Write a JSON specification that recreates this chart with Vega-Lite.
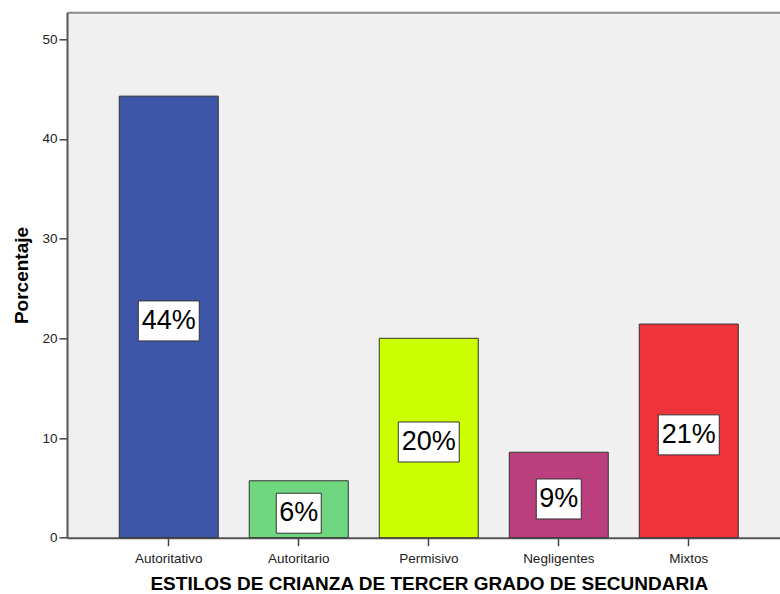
{
  "$schema": "https://vega.github.io/schema/vega-lite/v6.json",
  "width": 713,
  "height": 525.4,
  "autosize": {"type": "none"},
  "padding": {"left": 67, "top": 12.3, "right": 0, "bottom": 56.3},
  "background": "white",
  "config": {"view": {"stroke": null, "fill": "#F0F0F0"}, "font": "Liberation Sans"},
  "data": {"values": [
    {"estilo": "Autoritativo", "porcentaje": 44.29, "etiqueta": "44%"},
    {"estilo": "Autoritario", "porcentaje": 5.71, "etiqueta": "6%"},
    {"estilo": "Permisivo", "porcentaje": 20.0, "etiqueta": "20%"},
    {"estilo": "Negligentes", "porcentaje": 8.57, "etiqueta": "9%"},
    {"estilo": "Mixtos", "porcentaje": 21.43, "etiqueta": "21%"}
  ]},
  "layer": [
    {
      "mark": {"type": "bar", "stroke": "#333333", "strokeWidth": 1},
      "encoding": {
        "x": {
          "field": "estilo", "type": "nominal", "sort": null,
          "scale": {"paddingInner": 0.2385, "paddingOuter": 0.3615, "align": 0.556},
          "axis": {
            "labelAngle": 0, "tickSize": 8, "labelPadding": 17, "labelBaseline": "alphabetic",
            "labelFontSize": 13.5, "labelColor": "#222222", "labelFont": "Liberation Sans",
            "domainColor": "#555555", "domainWidth": 2, "tickColor": "#444444", "tickWidth": 1.5,
            "title": "ESTILOS DE CRIANZA DE TERCER GRADO DE SECUNDARIA",
            "titleFont": "Liberation Sans", "titleFontSize": 19, "titleFontWeight": "bold", "titleColor": "#000000",
            "titleX": 361.8, "titleY": 52, "titleBaseline": "alphabetic", "titleAlign": "center"
          }
        },
        "y": {
          "field": "porcentaje", "type": "quantitative",
          "scale": {"domain": [0, 52.7], "nice": false, "zero": true},
          "axis": {
            "values": [0, 10, 20, 30, 40, 50], "grid": false,
            "tickSize": 8, "labelPadding": 2, "labelFontSize": 13.5, "labelColor": "#222222", "labelFont": "Liberation Sans",
            "domainColor": "#555555", "domainWidth": 2, "tickColor": "#444444", "tickWidth": 1.5,
            "title": "Porcentaje", "titleFont": "Liberation Sans", "titleFontSize": 19, "titleFontWeight": "bold", "titleColor": "#000000",
            "titleX": -40, "titleY": 262.7, "titleBaseline": "alphabetic", "titleAlign": "center", "titleAngle": 270
          }
        },
        "color": {
          "field": "estilo", "type": "nominal",
          "scale": {
            "domain": ["Autoritativo", "Autoritario", "Permisivo", "Negligentes", "Mixtos"],
            "range": ["#3D56A8", "#6FD77F", "#CCFF00", "#BB3E7E", "#EF333A"]
          },
          "legend": null
        }
      }
    },
    {
      "mark": {"type": "point", "filled": true, "fill": "#FFFFFF", "stroke": "#333333", "strokeWidth": 1, "opacity": 1, "yOffset": 4},
      "encoding": {
        "x": {
          "field": "estilo", "type": "nominal", "sort": null,
          "axis": {"orient": "top", "labels": false, "ticks": false, "title": null, "domainColor": "#8C8C8C", "domainWidth": 2}
        },
        "y": {"field": "porcentaje", "type": "quantitative", "scale": {"domain": [0, 105.4], "nice": false}, "axis": null},
        "shape": {"condition": {"test": "length(datum.etiqueta) > 2", "value": "M-1,-0.656H1V0.656H-1Z"}, "value": "M-1,-0.889H1V0.889H-1Z"},
        "size": {"condition": {"test": "length(datum.etiqueta) > 2", "value": 3721}, "value": 2025}
      }
    },
    {
      "mark": {"type": "text", "fontSize": 27, "font": "Liberation Sans", "color": "#000000", "baseline": "middle", "align": "center", "yOffset": 4},
      "encoding": {
        "x": {"field": "estilo", "type": "nominal", "sort": null, "axis": null},
        "y": {"field": "porcentaje", "type": "quantitative", "scale": {"domain": [0, 105.4], "nice": false}, "axis": null},
        "text": {"field": "etiqueta"}
      }
    }
  ],
  "resolve": {"scale": {"y": "independent"}, "axis": {"x": "independent"}}
}
